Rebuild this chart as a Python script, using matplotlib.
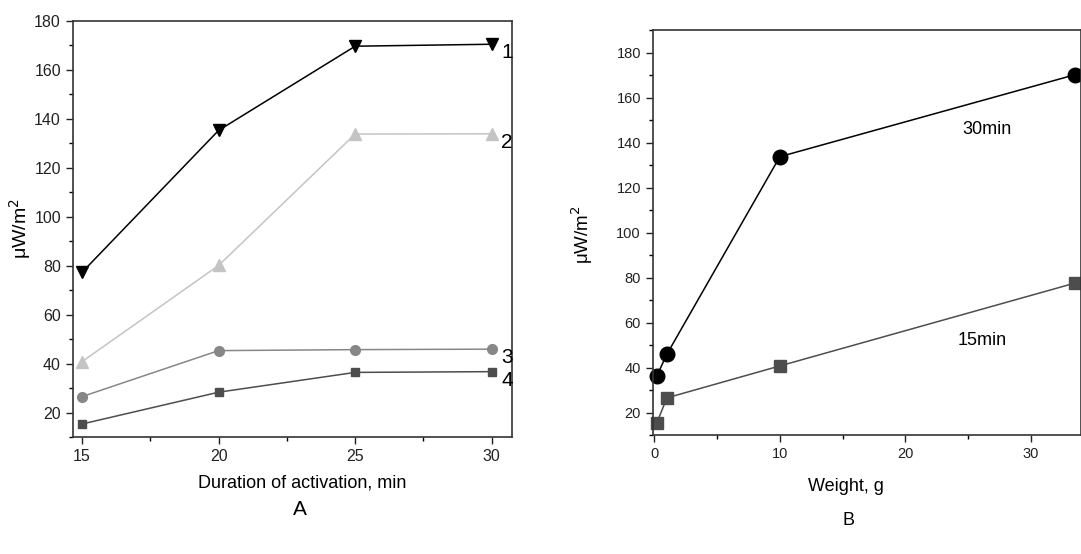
import matplotlib
matplotlib.use("Agg")
from matplotlib import pyplot as plt
from matplotlib.ticker import MultipleLocator

plt.rcParams['font.family'] = ['Liberation Sans', 'DejaVu Sans']

# panel A: duration of activation
duration = [15, 20, 25, 30]
curve1 = [77.3, 135.3, 169.7, 170.5]
curve2 = [40.8, 80.1, 133.8, 133.9]
curve3 = [26.5, 45.3, 45.7, 45.9]
curve4 = [15.3, 28.3, 36.4, 36.7]
curve_labels = ["1", "2", "3", "4"]

# panel B: weight
weight = [0.2, 1.0, 10.0, 33.5]
w_30min = [36.3, 45.9, 133.7, 170.1]
w_15min = [15.4, 26.5, 40.7, 77.5]

fig = plt.figure(figsize=(10.81, 5.54), dpi=100)
axA = fig.add_axes([0.0673, 0.2112, 0.4063, 0.7509])
axB = fig.add_axes([0.6038, 0.2148, 0.3962, 0.7310])

styles = [("v", "#000000", 9), ("^", "#c4c4c4", 9), ("o", "#878787", 7), ("s", "#4d4d4d", 6)]
for ys, (m, c, ms), lab in zip([curve1, curve2, curve3, curve4], styles, curve_labels):
    axA.plot(duration, ys, marker=m, color=c, ms=ms, lw=1.1)
    axA.text(30.35, ys[-1] - 3.5, lab, fontsize=15, va="center", ha="left")

axA.set_xlim(14.66, 30.74)
axA.set_ylim(10, 180)
axA.xaxis.set_major_locator(MultipleLocator(5))
axA.xaxis.set_minor_locator(MultipleLocator(2.5))
axA.yaxis.set_minor_locator(MultipleLocator(10))
axA.set_yticks(range(20, 181, 20))
axA.set_xlabel("Duration of activation, min", fontsize=13, va="center")
axA.xaxis.set_label_coords(0.522, -0.11)
axA.set_ylabel("\u03bcW/m$^2$", fontsize=14, va="center")
axA.yaxis.set_label_coords(-0.12, 0.502)

axB.plot(weight, w_30min, marker="o", color="#000000", ms=10.5, lw=1.1, clip_on=False)
axB.plot(weight, w_15min, marker="s", color="#4d4d4d", ms=9, lw=1.1, clip_on=False)
axB.text(26.5, 145.6, "30min", fontsize=13, ha="center", va="center")
axB.text(26.1, 51.9, "15min", fontsize=13, ha="center", va="center")
axB.set_xlim(-0.13, 34.0)
axB.set_ylim(10, 190)
axB.xaxis.set_major_locator(MultipleLocator(10))
axB.xaxis.set_minor_locator(MultipleLocator(5))
axB.yaxis.set_minor_locator(MultipleLocator(10))
axB.set_yticks(range(20, 181, 20))
axB.set_xlabel("Weight, g", fontsize=13, va="center")
axB.xaxis.set_label_coords(0.452, -0.128)
axB.set_ylabel("\u03bcW/m$^2$", fontsize=13.5, va="center")
axB.yaxis.set_label_coords(-0.165, 0.494)

for ax, ls in ((axA, 11.5), (axB, 10.5)):
    ax.tick_params(which="major", direction="out", length=5, width=1, labelsize=ls, colors="#222222")
    ax.tick_params(which="minor", direction="out", length=3, width=1)
    ax.tick_params(top=False, right=False, which="both")
    for s in ax.spines.values():
        s.set_linewidth(1.2)
        s.set_color("#333333")

fig.text(0.2775, 0.081, "A", fontsize=15, ha="center", va="center")
fig.text(0.7845, 0.061, "B", fontsize=13, ha="center", va="center")

fig.savefig("out.png", dpi=100)
